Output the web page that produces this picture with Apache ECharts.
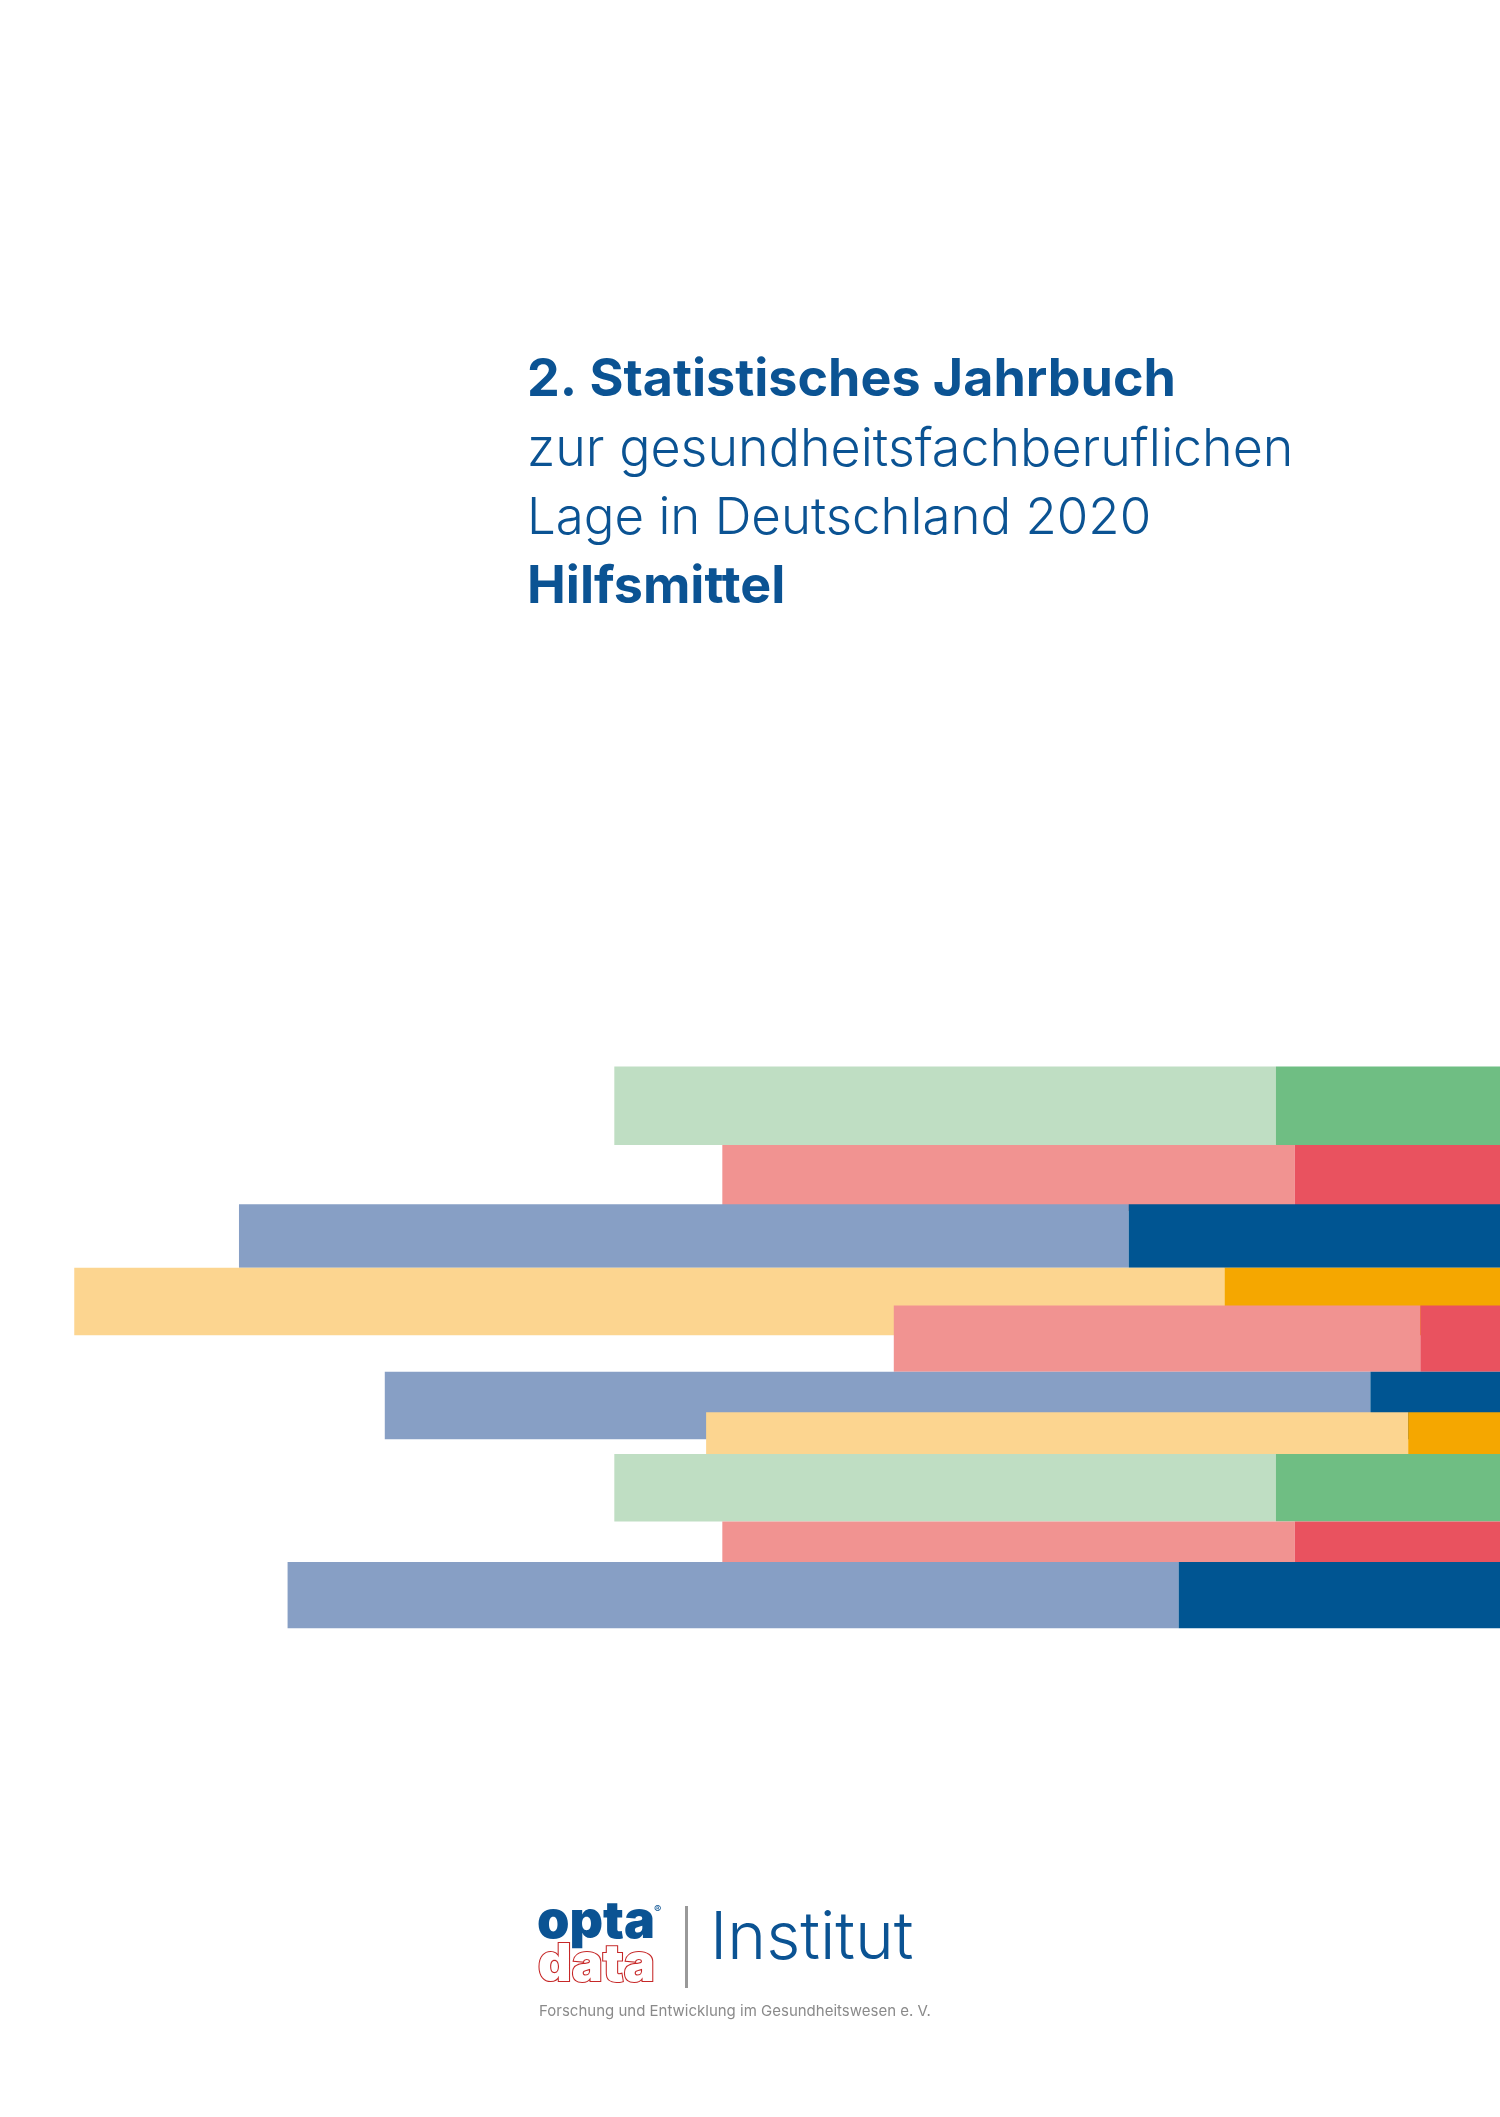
<!DOCTYPE html>
<html><head><meta charset="utf-8">
<script src="https://cdn.jsdelivr.net/npm/echarts@6/dist/echarts.min.js"></script>
<style>html,body{margin:0;padding:0;background:#fff}#c{width:1500px;height:2117px}</style>
</head><body><div id="c"></div>
<script>
// bar rows: start, split, end (horizontal units of a 1111-wide page), top, bottom (1568-tall page)
const barStart = [455, 535, 177, 55, 662, 285, 523, 455, 535, 213];
const barSplit = [945, 959, 836, 907, 1052, 1015, 1043, 945, 959, 873];
const barEnd   = [1111,1111,1111,1111,1111,1111,1111,1111,1111,1111];
const barTop   = [790, 848, 892, 939, 967, 1016, 1046, 1077, 1127, 1157];
const barBot   = [848, 897, 939, 989, 1016, 1066, 1077, 1127, 1157, 1206];
const lightColors = ['#bfdec3','#f19391','#879fc5','#fcd590','#f19391','#879fc5','#fcd590','#bfdec3','#f19391','#879fc5'];
const darkColors  = ['#6fbe83','#e9525f','#005592','#f5a700','#e9525f','#005592','#f5a700','#6fbe83','#e9525f','#005592'];

const data = barStart.map((s,i)=>[s, barSplit[i], barEnd[i], barTop[i], barBot[i], i]);
const chart = echarts.init(document.getElementById('c'));
const blue = '#0b5393';
chart.setOption({
  animation:false,
  grid:{left:0,right:0,top:0,bottom:0},
  xAxis:{type:'value',min:0,max:1111,show:false},
  yAxis:{type:'value',min:0,max:1568,inverse:true,show:false},
  series:[{
    type:'custom',
    data:data,
    renderItem:(params, api)=>{
      const i = api.value(5);
      const p0 = api.coord([api.value(0), api.value(3)]);
      const p1 = api.coord([api.value(1), api.value(4)]);
      const p2 = api.coord([api.value(2), api.value(4)]);
      return {type:'group', children:[
        {type:'rect', shape:{x:p0[0], y:p0[1], width:p1[0]-p0[0], height:p1[1]-p0[1]}, style:{fill:lightColors[i]}},
        {type:'rect', shape:{x:p1[0], y:p0[1], width:p2[0]-p1[0], height:p1[1]-p0[1]}, style:{fill:darkColors[i]}}
      ]};
    }
  }],
  graphic:[
    {type:'text', left:527, top:354, style:{text:'2. Statistisches Jahrbuch', fill:blue, font:'700 52px Inter'}},
    {type:'text', left:527, top:424, style:{text:'zur gesundheitsfachberuflichen', fill:blue, font:'300 52px Inter'}},
    {type:'text', left:527, top:493, style:{text:'Lage in Deutschland 2020', fill:blue, font:'300 51px Inter'}},
    {type:'text', left:527, top:561, style:{text:'Hilfsmittel', fill:blue, font:'700 52px Inter'}},
    {type:'text', left:537, top:1896, style:{text:'opta', fill:blue, font:'900 52px Inter'}},
    {type:'text', left:654, top:1904, style:{text:'®', fill:blue, font:'400 11px Inter'}},
    {type:'text', left:537, top:1938, style:{text:'data', fill:'#fff', stroke:'#c62828', lineWidth:2.2, font:'900 52px Inter'}},
    {type:'rect', shape:{x:685, y:1906, width:3, height:82}, style:{fill:'#999'}},
    {type:'text', left:710, top:1906, style:{text:'Institut', fill:blue, font:'300 66px Inter'}},
    {type:'text', left:539, top:2004, style:{text:'Forschung und Entwicklung im Gesundheitswesen e. V.', fill:'#8a8a8a', font:'400 15px Inter'}}
  ]
});
</script></body></html>
